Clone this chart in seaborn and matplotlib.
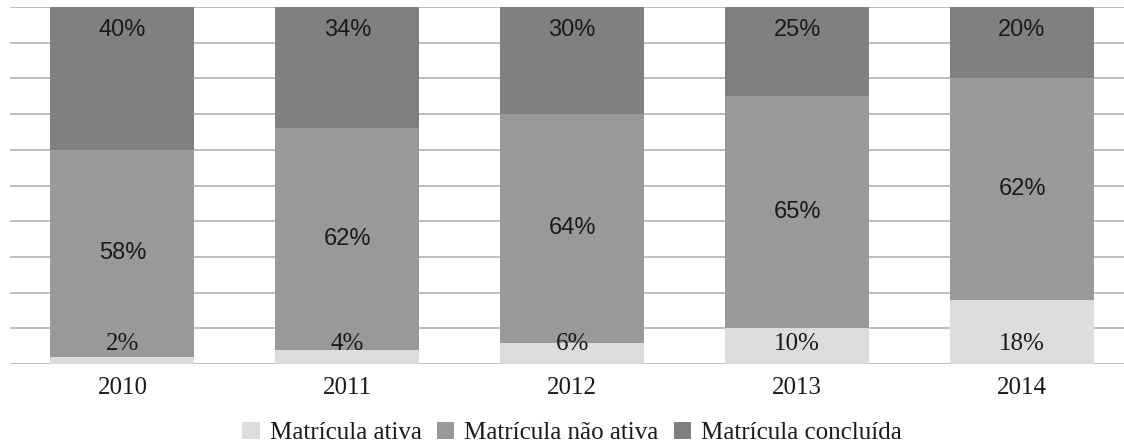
import matplotlib
matplotlib.use("Agg")
import matplotlib.pyplot as plt
import seaborn as sns
import pandas as pd
from matplotlib.patches import Patch

# --- dados ---
anos = ["2010", "2011", "2012", "2013", "2014"]
ativa = [2, 4, 6, 10, 18]
nao_ativa = [58, 62, 64, 65, 62]
concluida = [40, 34, 30, 25, 20]
series = ["Matrícula ativa", "Matrícula não ativa", "Matrícula concluída"]
cores = ["#dcdcdc", "#999999", "#808080"]

df = pd.DataFrame({"ano": anos, "ativa": ativa, "nao_ativa": nao_ativa, "concluida": concluida})
df["topo_nao"] = df["ativa"] + df["nao_ativa"]
df["topo_total"] = df["topo_nao"] + df["concluida"]

sns.set_style("white")
plt.rcParams["font.family"] = ["Liberation Serif", "DejaVu Serif"]

fig = plt.figure(figsize=(11.24, 4.47), dpi=100)
ax = fig.add_axes([10 / 1124, 83 / 447, 1 - 10 / 1124, 357 / 447])

# barras empilhadas: desenha o total primeiro e sobrepõe as partes menores
for col, cor in zip(["topo_total", "topo_nao", "ativa"], cores[::-1]):
    sns.barplot(data=df, x="ano", y=col, color=cor, width=0.64, ax=ax,
                saturation=1, edgecolor="none", linewidth=0)

ax.set_ylim(0, 100)
ax.set_xlim(-0.5, (1124 - 122) / 225)
ax.set_yticks(range(0, 101, 10))
ax.set_yticklabels([])
ax.yaxis.grid(True, color="#b3b3b3", linewidth=1.2)
ax.set_axisbelow(True)
for s in ax.spines.values():
    s.set_visible(False)
ax.tick_params(axis="both", length=0)
ax.tick_params(axis="x", labelsize=18, pad=9, labelcolor="#1a1a1a")
ax.set_xlabel("")
ax.set_ylabel("")

# rótulos de valores
for i in range(len(anos)):
    ax.text(i, 5.5, f"{ativa[i]}%", ha="center", va="center", fontsize=18,
            color="#1a1a1a", family="Liberation Serif")
    ax.text(i, ativa[i] + nao_ativa[i] / 2, f"{nao_ativa[i]}%", ha="center", va="center",
            fontsize=17, color="#1a1a1a", family="Liberation Sans")
    ax.text(i, 93.5, f"{concluida[i]}%", ha="center", va="center", fontsize=17,
            color="#1a1a1a", family="Liberation Sans")

handles = [Patch(facecolor=c, edgecolor="none") for c in cores]
fig.legend(handles, series, loc="center", bbox_to_anchor=(0.509, 1 - 433 / 447), ncol=3,
           frameon=False, fontsize=18, handlelength=0.7, handleheight=0.7,
           handletextpad=0.4, columnspacing=0.6, labelcolor="#1a1a1a")

fig.savefig("out.png", dpi=100, facecolor="white")
